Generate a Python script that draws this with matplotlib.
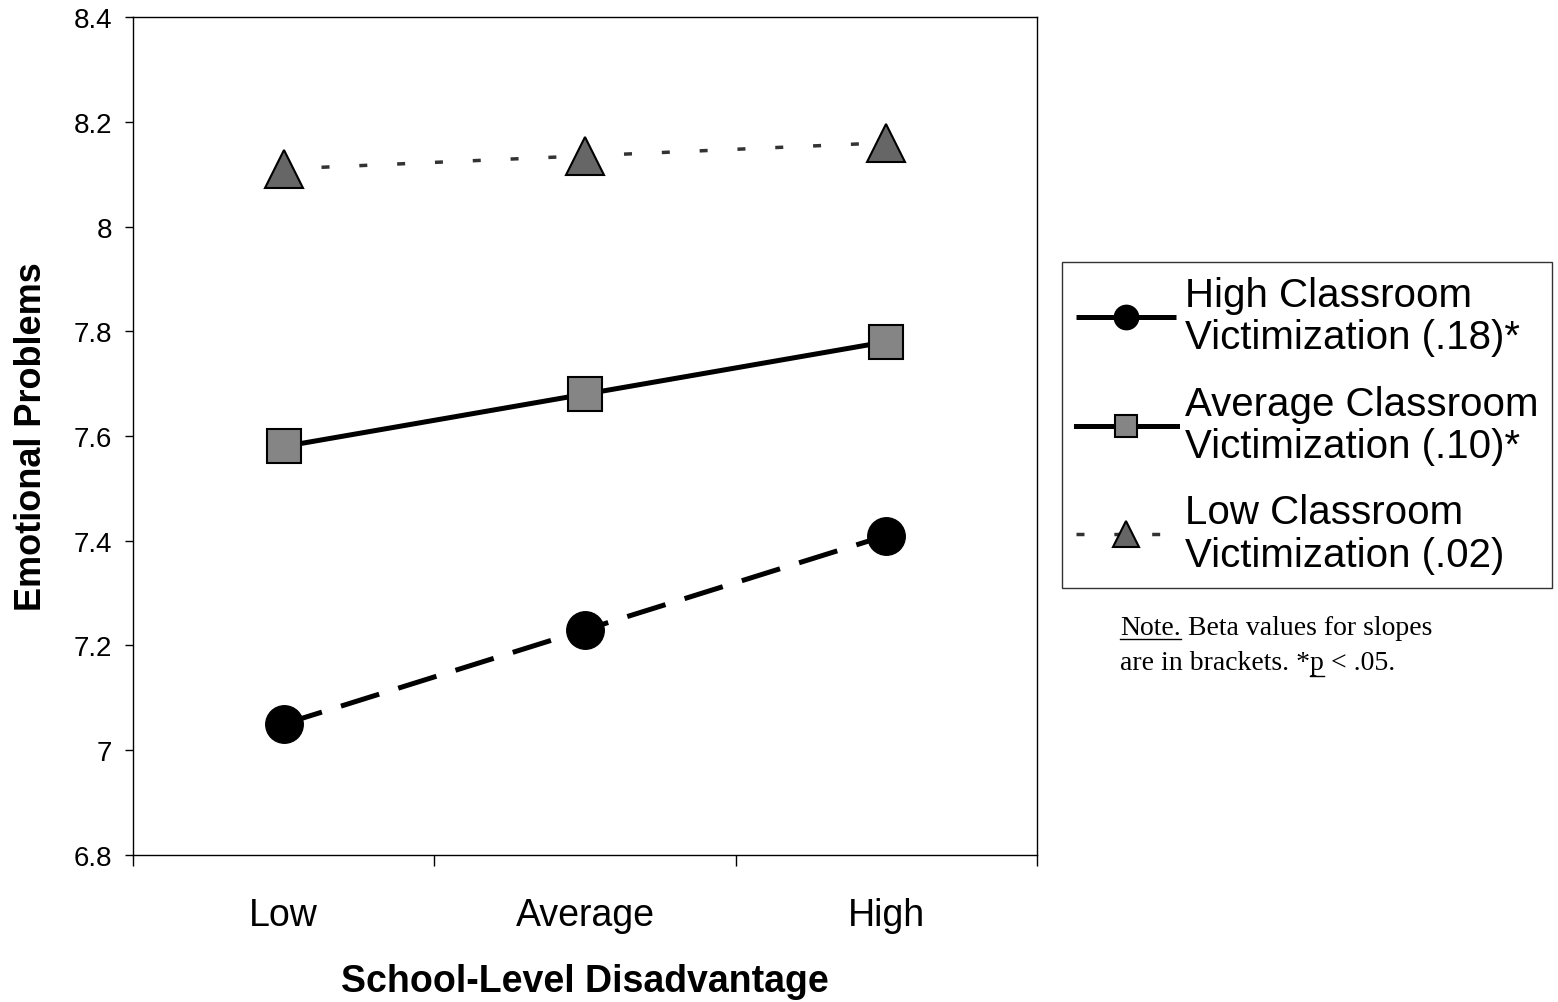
import matplotlib
matplotlib.use('Agg')
import matplotlib.pyplot as plt
from matplotlib.ticker import FuncFormatter
from matplotlib.lines import Line2D

plt.rcParams['font.family'] = ['Liberation Sans', 'DejaVu Sans']

# ==================== data ====================
categories = ['Low', 'Average', 'High']
high_vict = [7.05, 7.23, 7.41]
avg_vict = [7.58, 7.68, 7.78]
low_vict = [8.11, 8.135, 8.16]
series_labels = [
    'High Classroom\nVictimization (.18)*',
    'Average Classroom\nVictimization (.10)*',
    'Low Classroom\nVictimization (.02)',
]
y_ticks = [6.8, 7.0, 7.2, 7.4, 7.6, 7.8, 8.0, 8.2, 8.4]

# ==================== figure ====================
fig = plt.figure(figsize=(15.58, 10.03), dpi=100)
ax = fig.add_axes([0.0854, 0.1466, 0.5802, 0.8354])

x = list(range(len(categories)))

ax.plot(x, high_vict, color='black', linewidth=3.6, linestyle=(0, (8, 4)),
        marker='o', markersize=27, markerfacecolor='black',
        markeredgecolor='black', label=series_labels[0])
ax.plot(x, avg_vict, color='black', linewidth=3.6, linestyle='-',
        marker='s', markersize=24, markerfacecolor='#858585',
        markeredgecolor='black', markeredgewidth=1.5, label=series_labels[1])
ax.plot(x, low_vict, color='#333333', linewidth=2.5, linestyle=(0, (2.3, 8.6)),
        marker='^', markersize=28, markerfacecolor='#666666',
        markeredgecolor='black', markeredgewidth=1.5, label=series_labels[2])

ax.set_xlim(-0.5, 2.5)
ax.set_ylim(6.8, 8.4)
ax.set_yticks(y_ticks)
ax.yaxis.set_major_formatter(FuncFormatter(lambda v, p: '%g' % round(v, 1)))
ax.tick_params(axis='y', labelsize=20, length=6, width=1, direction='out', pad=9)

ax.set_xticks([-0.5, 0.5, 1.5, 2.5])
ax.set_xticklabels([])
ax.set_xticks(x, minor=True)
ax.set_xticklabels(categories, minor=True)
ax.tick_params(axis='x', which='major', length=8, width=1, direction='out')
ax.tick_params(axis='x', which='minor', length=0, labelsize=27, pad=30)

for sp in ax.spines.values():
    sp.set_linewidth(1.0)
    sp.set_color('black')

ax.set_xlabel('School-Level Disadvantage', fontsize=27, fontweight='bold', labelpad=22)
ax.set_ylabel('Emotional Problems', fontsize=26, fontweight='bold', labelpad=18)

leg = ax.legend(loc='upper left', bbox_to_anchor=(0.6816, 0.738),
                bbox_transform=fig.transFigure, borderaxespad=0,
                fontsize=29, frameon=True, fancybox=False, edgecolor='black',
                handlelength=2.5, handletextpad=0.2, labelspacing=0.7,
                numpoints=1, markerscale=0.65, borderpad=0.35)
leg.get_frame().set_linewidth(1.0)
for t in leg.get_texts():
    t.set_linespacing(1.15)

# note with underlined words
note_kw = dict(fontsize=20, family=['Liberation Serif', 'DejaVu Serif'], va='baseline')
y1 = 1 - 635 / 1003
y2 = 1 - 670 / 1003
t1 = fig.text(0.7188, y1, 'Note.', **note_kw)
t2 = fig.text(0.7188, y2, 'are in brackets. *', **note_kw)
fig.canvas.draw()
r = fig.canvas.get_renderer()
W, H = fig.bbox.width, fig.bbox.height
bb1 = t1.get_window_extent(r)
bb2 = t2.get_window_extent(r)
fig.text(bb1.x1 / W, y1, ' Beta values for slopes', **note_kw)
tp = fig.text(bb2.x1 / W, y2, 'p', **note_kw)
fig.canvas.draw()
bbp = tp.get_window_extent(r)
fig.text(bbp.x1 / W, y2, ' < .05.', **note_kw)

for bb, ybase in [(bb1, 635 + 5), (bbp, 670 + 7)]:
    yy = 1 - ybase / 1003
    fig.add_artist(Line2D([bb.x0 / W, bb.x1 / W], [yy, yy], color='black',
                          linewidth=1.0, transform=fig.transFigure))

fig.savefig('out.png', dpi=100)
